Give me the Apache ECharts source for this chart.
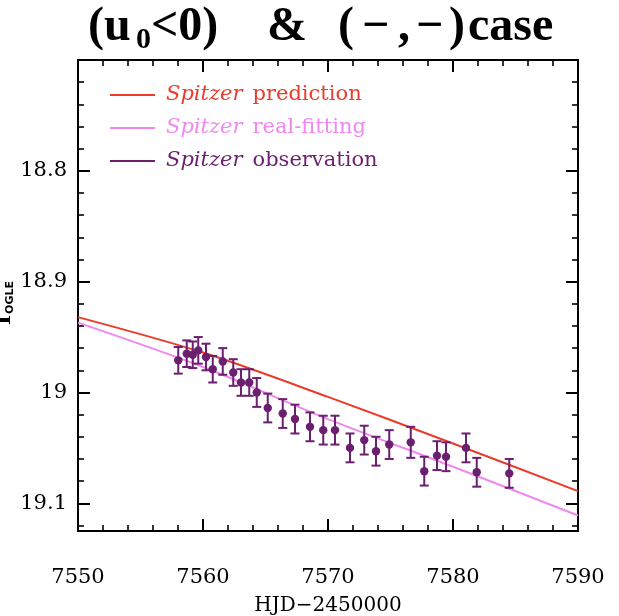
<!DOCTYPE html>
<html>
<head>
<meta charset="utf-8">
<script src="https://cdn.jsdelivr.net/npm/echarts@6/dist/echarts.min.js"></script>
<style>
  html, body { margin: 0; padding: 0; background: #fff; }
  #chart { width: 619px; height: 616px; }
</style>
</head>
<body>
<div id="chart"></div>
<script>
// Spitzer photometry (HJD-2450000, I_OGLE magnitude, 1-sigma error)
const obsDays = [7558.02, 7558.70, 7559.18, 7559.62, 7560.24, 7560.78, 7561.58, 7562.42,
  7563.04, 7563.70, 7564.30, 7565.18, 7566.38, 7567.36, 7568.56, 7569.62, 7570.56,
  7571.76, 7572.90, 7573.84, 7574.90, 7576.62, 7577.70, 7578.72, 7579.44, 7581.04,
  7581.90, 7584.50];
const obsMag = [18.971, 18.965, 18.966, 18.962, 18.968, 18.979, 18.972, 18.982,
  18.991, 18.991, 19.000, 19.014, 19.019, 19.024, 19.031, 19.034, 19.034,
  19.050, 19.043, 19.053, 19.047, 19.045, 19.071, 19.057, 19.058, 19.050,
  19.072, 19.073];
const obsErr = [0.012, 0.012, 0.012, 0.012, 0.012, 0.012, 0.012, 0.012,
  0.012, 0.012, 0.013, 0.013, 0.013, 0.013, 0.013, 0.013, 0.013,
  0.013, 0.013, 0.013, 0.013, 0.014, 0.013, 0.013, 0.013, 0.013,
  0.013, 0.013];

// model light curves
const modelDays = [7550, 7560, 7570, 7580, 7590];
const predMag = [18.932, 18.964, 19.004, 19.046, 19.089];
const fitMag = [18.937, 18.977, 19.024, 19.067, 19.111];

const xTicks = [7550, 7560, 7570, 7580, 7590];
const yTicks = [18.8, 18.9, 19.0, 19.1];

const RED = '#ec3b2b', PINK = '#f088ef', PURPLE = '#6b1f6f';
const NUM_FONT = 'DejaVu Serif';

const chart = echarts.init(document.getElementById('chart'), null, { renderer: 'canvas' });

function pairs(xs, ys) { return xs.map((x, i) => [x, ys[i]]); }

function renderErr(params, api) {
  const x = api.value(0), y = api.value(1), e = api.value(2);
  const top = api.coord([x, y - e]);
  const bot = api.coord([x, y + e]);
  const c = api.coord([x, y]);
  const w = 4.5;
  const st = { stroke: PURPLE, lineWidth: 2 };
  return {
    type: 'group',
    children: [
      { type: 'line', shape: { x1: top[0], y1: top[1], x2: bot[0], y2: bot[1] }, style: st },
      { type: 'line', shape: { x1: top[0] - w, y1: top[1], x2: top[0] + w, y2: top[1] }, style: st },
      { type: 'line', shape: { x1: bot[0] - w, y1: bot[1], x2: bot[0] + w, y2: bot[1] }, style: st },
      { type: 'circle', shape: { cx: c[0], cy: c[1], r: 4.2 }, style: { fill: PURPLE } }
    ]
  };
}

function legendItem(name, color) {
  return {
    name: name,
    icon: 'rect',
    itemStyle: { color: color },
    textStyle: {
      rich: {
        i: { fontFamily: NUM_FONT, fontStyle: 'italic', fontSize: 21, color: color, padding: [0, 0, 0, 6] },
        r: { fontFamily: NUM_FONT, fontSize: 21, color: color, padding: [0, 0, 0, 10] }
      }
    }
  };
}

const axisLine = { show: true, onZero: false, lineStyle: { color: '#000', width: 2 } };
const majorTick = { show: true, inside: true, length: 12, lineStyle: { color: '#000', width: 2 } };
const minorTick = { show: true, splitNumber: 5, length: 6, lineStyle: { color: '#000', width: 1.6 } };

function fmtNum(v) { return String(+(+v).toFixed(2)); }

// heading pieces, placed one by one so the spacing can be tuned
const titleParts = [
  { t: '(u', x: 88, y: 28, s: 48 },
  { t: '0', x: 136, y: 40, s: 30 },
  { t: '<0)', x: 151, y: 28, s: 48 },
  { t: '&', x: 267, y: 28, s: 48 },
  { t: '(', x: 338, y: 28, s: 48 },
  { t: '\u2212', x: 362, y: 28, s: 48 },
  { t: ',', x: 398, y: 28, s: 48 },
  { t: '\u2212', x: 416, y: 28, s: 48 },
  { t: ')', x: 449, y: 28, s: 48 },
  { t: 'case', x: 468, y: 28, s: 48 }
];

const graphics = titleParts.map(p => ({
  type: 'text', x: p.x, y: p.y,
  style: {
    text: p.t, fontFamily: 'Liberation Serif', fontWeight: 'bold', fontSize: p.s,
    fill: '#000', textAlign: 'left', textVerticalAlign: 'middle'
  }
}));

// y-axis name, rotated
graphics.push({
  type: 'text', x: 3, y: 325, rotation: Math.PI / 2,
  style: {
    text: '{m|I}{s|OGLE}',
    textAlign: 'left', textVerticalAlign: 'middle',
    rich: {
      m: { fontFamily: 'Liberation Serif', fontWeight: 'bold', fontSize: 26, fill: '#000' },
      s: { fontFamily: 'DejaVu Sans', fontWeight: 'bold', fontSize: 11, fill: '#000', verticalAlign: 'bottom', padding: [14, 0, 0, 1] }
    }
  }
});

const option = {
  backgroundColor: '#fff',
  animation: false,
  graphic: graphics,
  grid: { left: 78, right: 41, top: 60, bottom: 85, containLabel: false, outerBoundsMode: 'none' },
  legend: {
    orient: 'vertical', left: 105, top: 79,
    itemWidth: 45, itemHeight: 2, itemGap: 11,
    textStyle: { fontFamily: NUM_FONT, fontSize: 21, lineHeight: 22 },
    formatter: function (n) {
      const parts = n.split(' ');
      return '{i|' + parts[0] + '}{r|' + parts.slice(1).join(' ') + '}';
    },
    data: [
      legendItem('Spitzer prediction', RED),
      legendItem('Spitzer real-fitting', PINK),
      legendItem('Spitzer observation', PURPLE)
    ],
    selectedMode: false
  },
  xAxis: [
    {
      type: 'value', position: 'bottom', min: xTicks[0], max: xTicks[xTicks.length - 1], interval: 10,
      axisLine: axisLine, axisTick: majorTick, minorTick: minorTick,
      splitLine: { show: false },
      axisLabel: { fontFamily: NUM_FONT, fontSize: 21, color: '#000', margin: 36, formatter: v => String(v) },
      name: 'HJD\u22122450000', nameLocation: 'middle', nameGap: 65,
      nameTextStyle: { fontFamily: NUM_FONT, fontSize: 20, color: '#000' }
    },
    {
      type: 'value', position: 'top', min: xTicks[0], max: xTicks[xTicks.length - 1], interval: 10,
      axisLine: axisLine, axisTick: majorTick, minorTick: minorTick,
      splitLine: { show: false }, axisLabel: { show: false }
    }
  ],
  yAxis: [
    {
      type: 'value', position: 'left', inverse: true, min: 18.7, max: 19.125, interval: 0.1,
      axisLine: axisLine, axisTick: majorTick, minorTick: minorTick,
      splitLine: { show: false },
      axisLabel: {
        fontFamily: NUM_FONT, fontSize: 21, color: '#000', margin: 11,
        showMinLabel: false,
        formatter: function (v) { return yTicks.some(t => Math.abs(t - v) < 1e-6) ? fmtNum(v) : ''; }
      }
    },
    {
      type: 'value', position: 'right', inverse: true, min: 18.7, max: 19.125, interval: 0.1,
      axisLine: axisLine, axisTick: majorTick, minorTick: minorTick,
      splitLine: { show: false }, axisLabel: { show: false }
    }
  ],
  series: [
    {
      name: 'Spitzer prediction', type: 'line', data: pairs(modelDays, predMag),
      smooth: 0.3, showSymbol: false, symbol: 'none', color: RED,
      lineStyle: { color: RED, width: 2 }, clip: true, z: 3
    },
    {
      name: 'Spitzer real-fitting', type: 'line', data: pairs(modelDays, fitMag),
      smooth: 0.3, showSymbol: false, symbol: 'none', color: PINK,
      lineStyle: { color: PINK, width: 2 }, clip: true, z: 3
    },
    {
      name: 'Spitzer observation', type: 'custom', renderItem: renderErr,
      color: PURPLE, itemStyle: { color: PURPLE },
      data: obsDays.map((d, i) => [d, obsMag[i], obsErr[i]]),
      encode: { x: 0, y: 1 }, z: 4
    }
  ]
};

chart.setOption(option);
</script>
</body>
</html>
